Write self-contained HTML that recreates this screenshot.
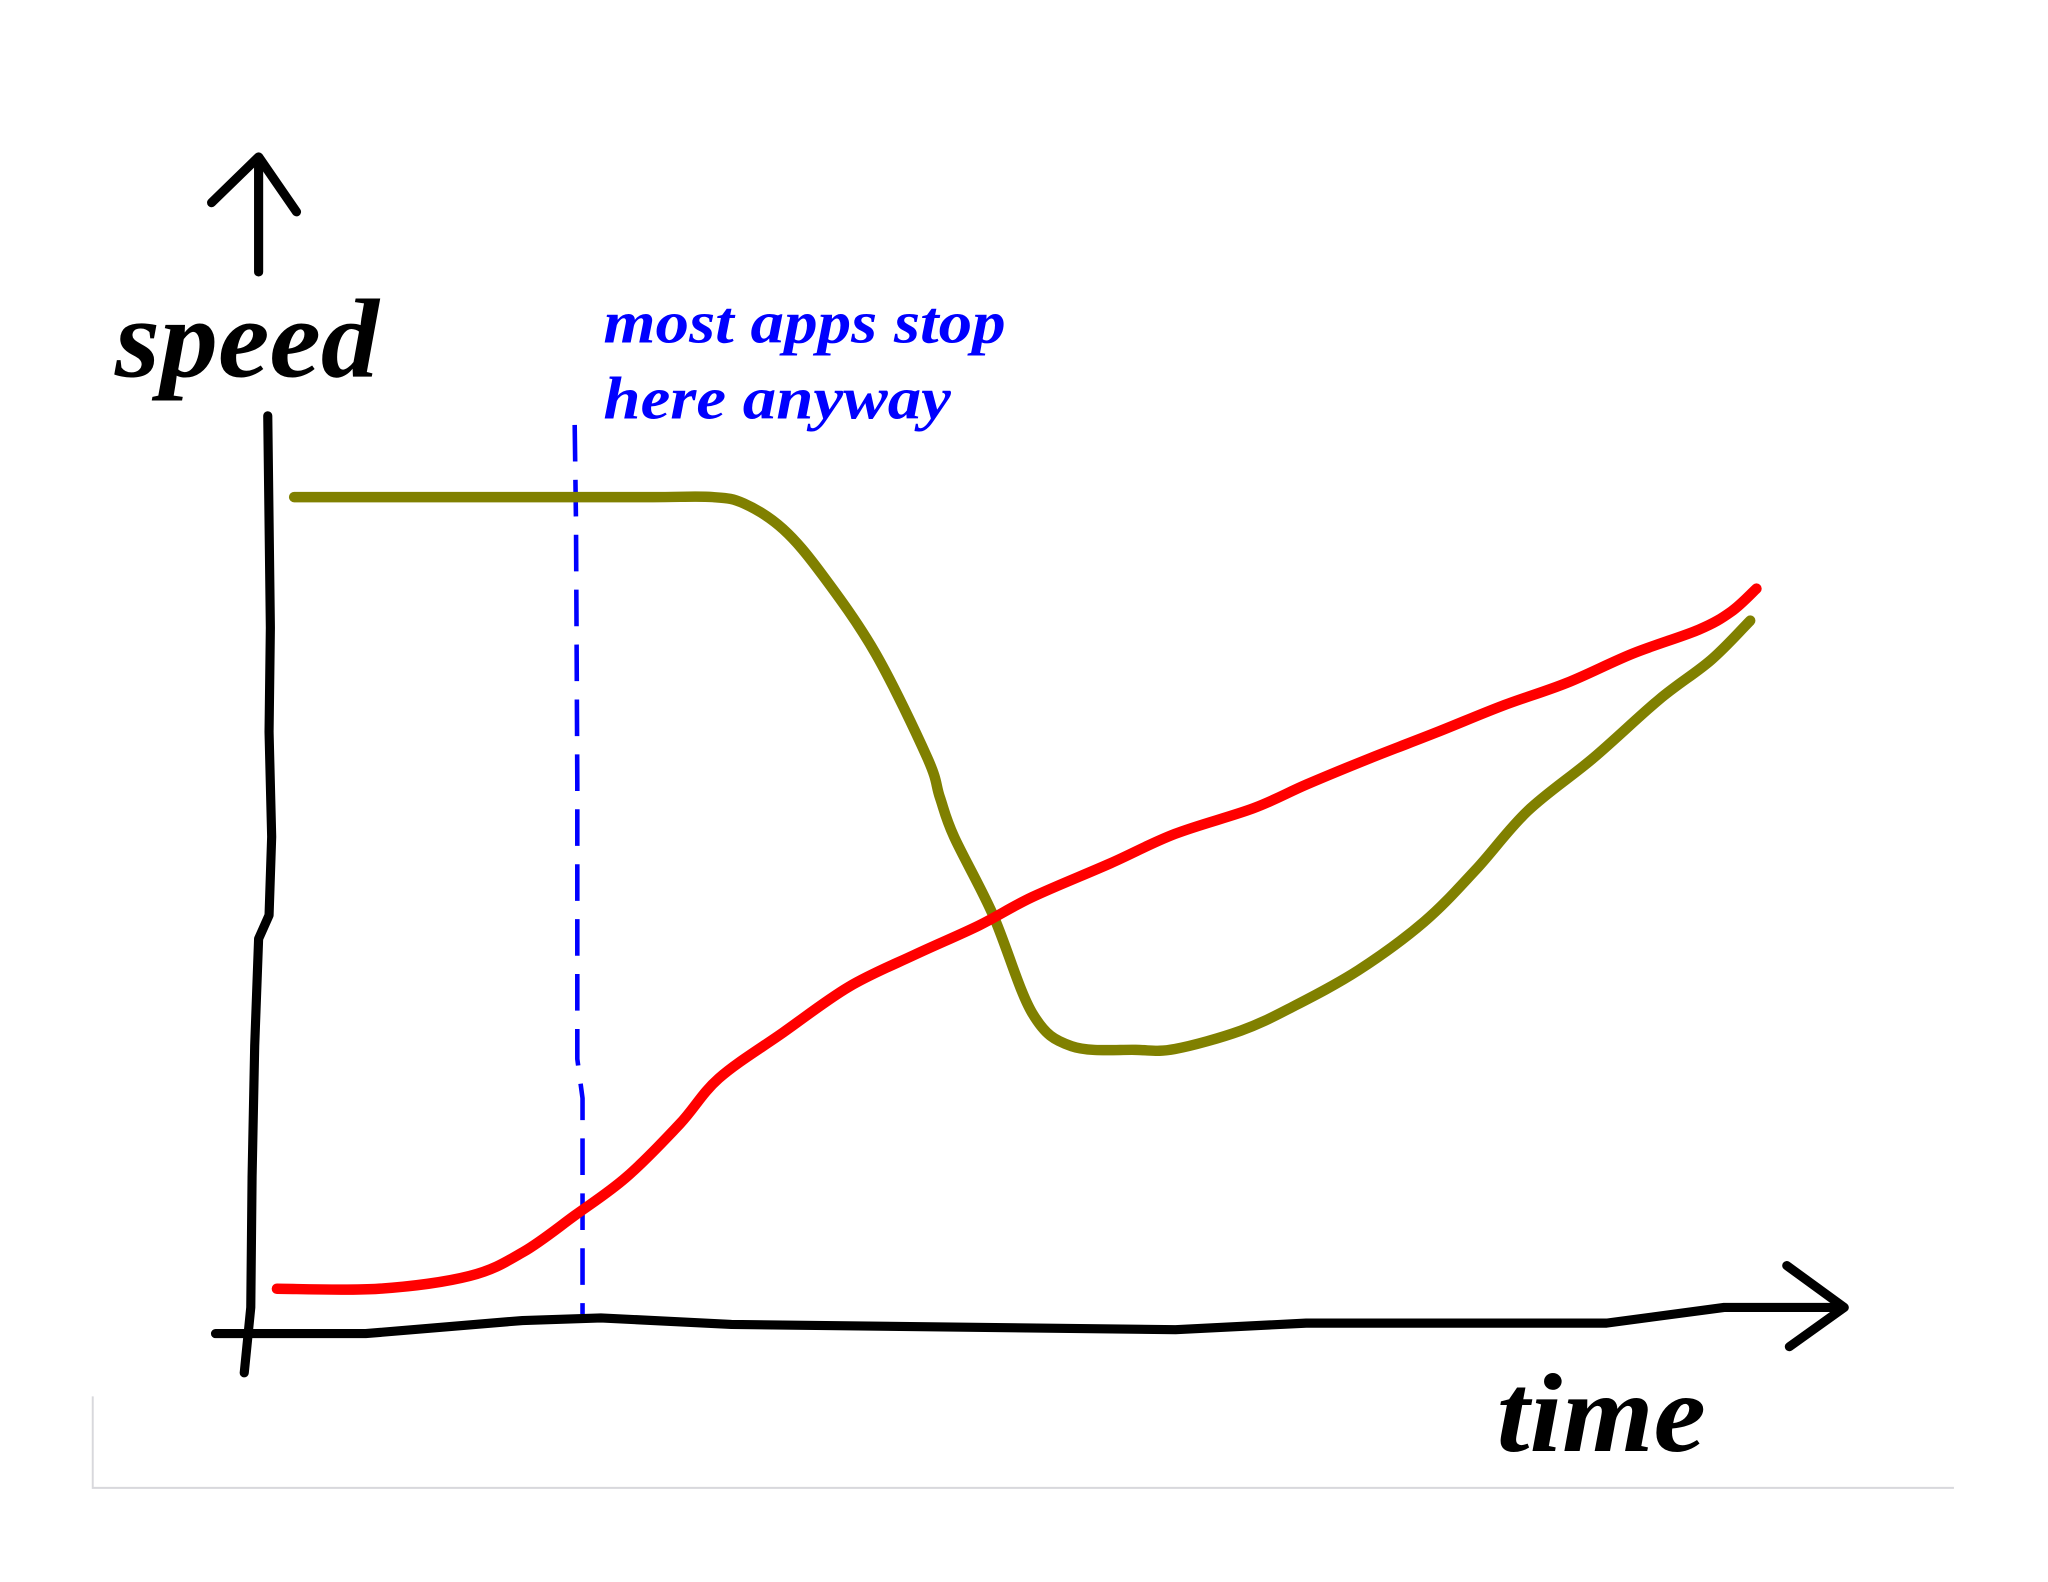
<!DOCTYPE html>
<html><head><meta charset="utf-8"><style>
html,body{margin:0;padding:0;background:#fff;}
svg{display:block;}
</style></head><body>
<svg id="chart" width="2048" height="1582" viewBox="0 0 1568 1210" preserveAspectRatio="none" xmlns="http://www.w3.org/2000/svg">
<rect width="1568" height="1210" fill="#fff"/>
<path d="M71,1068 L71,1138 L1496,1138" fill="none" stroke="#d8d8dc" stroke-width="1.5"/>
<g fill="none" stroke="#000" stroke-width="7" stroke-linecap="round" stroke-linejoin="round">
<path d="M198,208 L198,122"/>
<path d="M162,155 L198,120 L227,162"/>
<path d="M205,318 L207,480 L206,560 L208,640 L206,700 L198,718 L195,800 L193,900 L192,1000 L187,1050"/>
</g>
<g fill="none" stroke="#000" stroke-width="7" stroke-linecap="round" stroke-linejoin="round">
<path d="M165,1020 L280,1020 L400,1010 L460,1008 L560,1013 L900,1017 L1000,1012 L1230,1012 L1320,1000 L1410,1000"/>
<path d="M1368,968 L1412,1000 L1370,1030"/>
</g>
<text x="88" y="288" font-family="Liberation Serif, serif" font-weight="bold" font-style="italic" font-size="86" textLength="202" lengthAdjust="spacingAndGlyphs">speed</text>
<text x="1146" y="1110" font-family="Liberation Serif, serif" font-weight="bold" font-style="italic" font-size="86" textLength="160" lengthAdjust="spacingAndGlyphs">time</text>
<g fill="#0000ff" font-family="Liberation Serif, serif" font-weight="bold" font-style="italic" font-size="46">
<text x="462" y="262" textLength="308" lengthAdjust="spacingAndGlyphs">most apps stop</text>
<text x="462" y="320" textLength="266" lengthAdjust="spacingAndGlyphs">here anyway</text>
</g>
<path d="M440,325 L441,400 L442,600 L442,810 L446,840 L446,1005" fill="none" stroke="#0000ff" stroke-width="3.5" stroke-dasharray="28,14"/>
<g id="series"></g>
</svg>
<script>
const oliveTime=[2.1,10,18,25,28.8,30.8,33.3,35.8,39.2,42.5,43.3,44.2,46.7,49.2,51.7,55.8,58.3,62.5,65.8,70,74.2,77.5,80.8,85,89.2,92.5,95];
const oliveSpeed=[91.4,91.4,91.4,91.4,91.4,90.7,87.9,82.9,74.3,62.9,58.6,54.3,45.7,35,31.4,31,31.1,33.1,35.7,39.7,45,50.7,57.1,62.9,69.3,73.6,77.9];
const redTime=[1,7.5,13.3,16.7,20,23.3,26.7,29.2,33.3,37.5,41.7,45.8,49.2,54.2,58.3,63.3,66.7,70.8,75,79.2,83.3,87.5,91.7,93.8,95.4];
const redSpeed=[4.9,4.9,6.3,8.9,12.9,17.1,22.9,27.9,32.9,37.9,41.4,44.6,47.7,51.4,54.6,57.4,60,62.9,65.7,68.6,71.1,74.3,76.9,78.9,81.4];
function xScale(t){return 200+t*12;}
function yScale(s){return 1020-s*7;}
function smoothPath(xs,ys){
  const p=xs.map((t,i)=>[xScale(t),yScale(ys[i])]);
  let d='M'+p[0][0]+','+p[0][1];
  for(let i=0;i<p.length-1;i++){
    const p0=p[i-1]||p[i],p1=p[i],p2=p[i+1],p3=p[i+2]||p2;
    const c1=[p1[0]+(p2[0]-p0[0])/6,p1[1]+(p2[1]-p0[1])/6];
    const c2=[p2[0]-(p3[0]-p1[0])/6,p2[1]-(p3[1]-p1[1])/6];
    d+=' C'+c1.join(',')+' '+c2.join(',')+' '+p2.join(',');
  }
  return d;
}
const g=document.getElementById('series');
const ns='http://www.w3.org/2000/svg';
const olive=document.createElementNS(ns,'path');
olive.setAttribute('d',smoothPath(oliveTime,oliveSpeed));
olive.setAttribute('fill','none');olive.setAttribute('stroke','#808000');olive.setAttribute('stroke-width','8');olive.setAttribute('stroke-linecap','round');olive.setAttribute('stroke-linejoin','round');


g.appendChild(olive);
const red=document.createElementNS(ns,'path');
red.setAttribute('d',smoothPath(redTime,redSpeed));
red.setAttribute('fill','none');red.setAttribute('stroke','#ff0000');red.setAttribute('stroke-width','8');red.setAttribute('stroke-linecap','round');red.setAttribute('stroke-linejoin','round');


g.appendChild(red);
</script>
</body></html>
